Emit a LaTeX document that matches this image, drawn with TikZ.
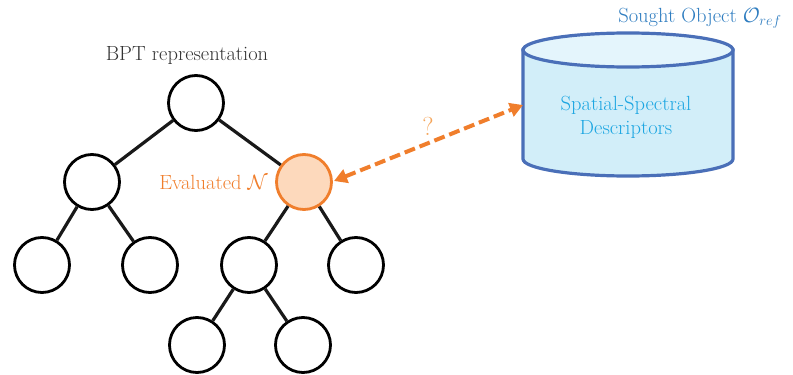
\documentclass[tikz,border=0pt]{standalone}
\usepackage{fontspec}
\usepackage{amsmath}
\usetikzlibrary{arrows.meta}
\definecolor{orangeL}{HTML}{F07E2C}
\definecolor{orangeF}{HTML}{FDD9BC}
\definecolor{orangeQ}{HTML}{F5A55A}
\definecolor{cylB}{HTML}{4A6FB8}
\definecolor{cylF}{HTML}{D2EEF9}
\definecolor{cylT}{HTML}{E4F5FC}
\definecolor{txtC}{HTML}{1CA6E2}
\definecolor{txtB}{HTML}{2F7DC0}
\tikzset{
  tnode/.style={circle, draw=black, line width=2.8pt, fill=white, minimum size=55pt, inner sep=0pt},
  enode/.style={tnode, draw=orangeL, fill=orangeF},
  tedge/.style={line width=3.2pt, black!90},
  lbl/.style={font=\fontsize{20.5}{24}\selectfont, inner sep=0pt},
}
\begin{document}
\begin{tikzpicture}[x=1pt,y=-1pt]
\useasboundingbox (0,0) rectangle (793,375);
% cylinder
\begin{scope}[line width=3.2pt]
\filldraw[fill=cylF, draw=cylB] (523,50) -- (523,159) arc[start angle=180,end angle=360,x radius=105,y radius=-17] -- (733,50) -- cycle;
\filldraw[fill=cylT, draw=cylB] (628,50) ellipse[x radius=105, y radius=17];
\end{scope}
\node[lbl, text=txtC, align=center] (desc) at (626,117) {Spatial-Spectral\\[0pt]Descriptors};
\node[lbl, text=txtB] (sought) at (700,18) {Sought Object $\mathcal{O}_{ref}$};
\coordinate (cylL) at (523,105);
% tree
\node[lbl, text=black!80] (title) at (187,55) {BPT representation};
\node[tnode] (r) at (196,103) {};
\node[tnode] (a) at (92,182) {};
\node[enode] (e) at (304,182) {};
\node[tnode] (a1) at (42,265) {};
\node[tnode] (a2) at (150,265) {};
\node[tnode] (e1) at (249,265) {};
\node[tnode] (e2) at (356,265) {};
\node[tnode] (f1) at (197,345) {};
\node[tnode] (f2) at (303,345) {};
\draw[tedge] (r) -- (a);
\draw[tedge] (r) -- (e);
\draw[tedge] (a) -- (a1);
\draw[tedge] (a) -- (a2);
\draw[tedge] (e) -- (e1);
\draw[tedge] (e) -- (e2);
\draw[tedge] (e1) -- (f1);
\draw[tedge] (e1) -- (f2);
\node[lbl, text=orangeL, anchor=east] (evl) at (268,182) {Evaluated $\mathcal{N}$};
% arrow
\coordinate (ae) at (334,181);
\draw[orangeL, line width=4pt, dash pattern=on 11pt off 5pt, {Triangle[length=13pt,width=14pt]}-{Triangle[length=13pt,width=14pt]}] (ae) -- (cylL);
\node[text=orangeQ, font=\fontsize{26}{28}\selectfont, inner sep=0pt] (q) at (428,126) {?};
\end{tikzpicture}
\end{document}
